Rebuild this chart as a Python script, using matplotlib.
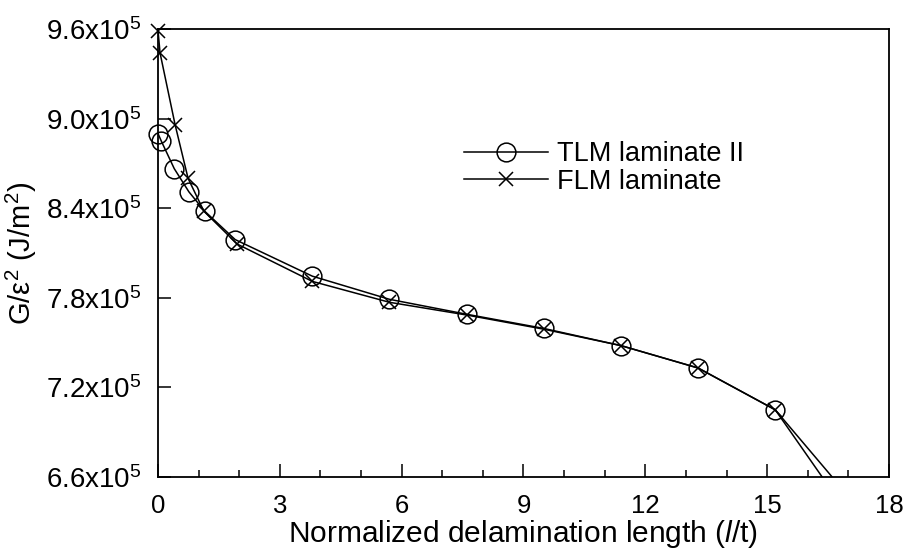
import matplotlib
matplotlib.use('Agg')
import matplotlib.pyplot as plt
from matplotlib.lines import Line2D
from matplotlib.ticker import FixedLocator, MultipleLocator

# data (G/eps^2 in J/m^2)
tlm_x = [0.0, 0.08, 0.4, 0.76, 1.15, 1.9, 3.8, 5.7, 7.6, 9.5, 11.4, 13.3, 15.2, 17.1]
tlm_y = [8.90e5, 8.85e5, 8.665e5, 8.51e5, 8.38e5, 8.19e5, 7.945e5, 7.79e5,
         7.69e5, 7.595e5, 7.48e5, 7.33e5, 7.05e5, 6.44e5]
flm_x = [0.0, 0.05, 0.42, 0.74, 1.13, 1.95, 3.8, 5.7, 7.6, 9.5, 11.4, 13.3, 15.2, 17.1]
flm_y = [9.59e5, 9.44e5, 8.96e5, 8.60e5, 8.38e5, 8.16e5, 7.91e5, 7.77e5,
         7.685e5, 7.59e5, 7.48e5, 7.33e5, 7.05e5, 6.31e5]

ytick_vals = [6.6e5, 7.2e5, 7.8e5, 8.4e5, 9.0e5, 9.6e5]
ytick_labels = ['6.6x10$^5$', '7.2x10$^5$', '7.8x10$^5$', '8.4x10$^5$',
                '9.0x10$^5$', '9.6x10$^5$']
xtick_vals = [0, 3, 6, 9, 12, 15, 18]

plt.rcParams['font.family'] = ['Liberation Sans', 'DejaVu Sans']
plt.rcParams['mathtext.fontset'] = 'custom'
plt.rcParams['mathtext.rm'] = 'Liberation Sans'
plt.rcParams['mathtext.it'] = 'Liberation Sans:italic'

fig = plt.figure(figsize=(9.05, 5.53), dpi=100)
ax = fig.add_axes([0.1746, 0.1374, 0.8077, 0.8101])

# lines (clipped to the box), markers drawn only where inside the range
ax.plot(tlm_x, tlm_y, '-', color='black', lw=1.1)
ax.plot(flm_x, flm_y, '-', color='black', lw=1.1)
ymin, ymax = ytick_vals[0], ytick_vals[-1]
tx = [x for x, y in zip(tlm_x, tlm_y) if y >= ymin]
ty = [y for y in tlm_y if y >= ymin]
fx = [x for x, y in zip(flm_x, flm_y) if y >= ymin]
fy = [y for y in flm_y if y >= ymin]
ax.plot(tx, ty, 'o', mfc='none', mec='black', ms=13.5, mew=1.1, clip_on=False)
ax.plot(fx, fy, 'x', color='black', ms=10, mew=1.1, clip_on=False)

ax.set_xlim(0, 18)
ax.set_ylim(ymin, ymax)
ax.xaxis.set_major_locator(FixedLocator(xtick_vals))
ax.xaxis.set_minor_locator(MultipleLocator(1))
ax.yaxis.set_major_locator(FixedLocator(ytick_vals))
ax.set_yticklabels(ytick_labels, fontsize=20)
ax.tick_params(axis='x', which='major', direction='in', length=9.5, width=1.1,
               labelsize=18.5, pad=12, top=False)
ax.tick_params(axis='x', which='minor', direction='in', length=5, width=1.1, top=False)
ax.tick_params(axis='y', which='major', direction='in', length=9.5, width=1.1,
               pad=12, right=False)
for s in ax.spines.values():
    s.set_linewidth(1.3)

ax.set_xlabel(r'Normalized delamination length ($\mathit{l}$/t)', fontsize=21.5, labelpad=0)
ax.set_ylabel('G/ε$^2$ (J/m$^2$)', fontsize=21)
ax.yaxis.set_label_coords(-0.163, 0.5)

handles = [
    Line2D([], [], color='black', lw=1.1, marker='o', mfc='none', mec='black', ms=13.5, mew=1.1),
    Line2D([], [], color='black', lw=1.1, marker='x', ms=10, mew=1.1),
]
ax.legend(handles, ['TLM laminate II', 'FLM laminate'], loc='center left',
          bbox_to_anchor=(0.4, 0.69), frameon=False, fontsize=19.5,
          handlelength=3.1, handletextpad=0.35, labelspacing=0.05, borderpad=0)

fig.savefig('out.png', dpi=100)
